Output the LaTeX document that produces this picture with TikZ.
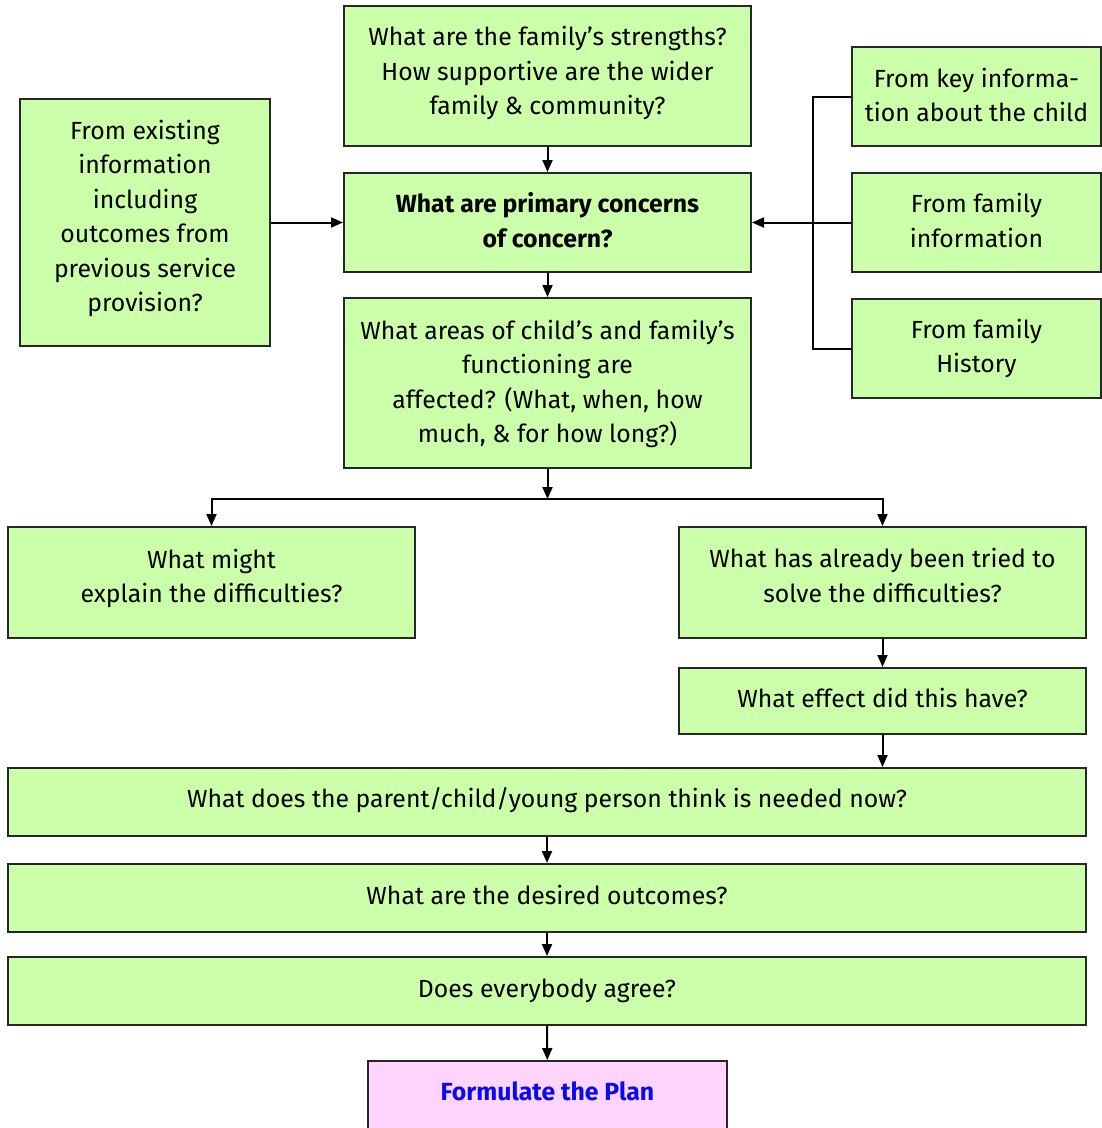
\documentclass[tikz,border=0pt]{standalone}
\usepackage{fontspec}
\setmainfont{Fira Sans}
\usetikzlibrary{arrows.meta}
\definecolor{boxgreen}{RGB}{204,255,170}
\definecolor{boxpink}{RGB}{255,213,255}
\definecolor{planblue}{RGB}{10,10,240}
\tikzset{
  gbox/.style={draw=black!85, line width=2pt, fill=boxgreen, inner sep=0pt},
  pbox/.style={gbox, fill=boxpink},
  btext/.style={inner sep=0pt, align=center, font=\fontsize{24.8}{34.5}\selectfont,
    execute at begin node=\strut, execute at end node=\strut},
  conn/.style={line width=2pt, draw=black},
  arr/.style={conn, -{Triangle[length=12pt,width=10pt]}},
}
\newcommand{\bx}[7]{% name, x1, y1, x2, y2, text, upward shift
  \node[gbox, minimum width=#4pt-#2pt, minimum height=#5pt-#3pt] (#1) at ({(#2+#4)/2},{(#3+#5)/2}) {};
  \node[btext, yshift=#7pt] (#1-t) at (#1.center) {#6};}
\begin{document}
\begin{tikzpicture}[x=1pt,y=-1pt]
\useasboundingbox (0,0) rectangle (1102,1128);
\begin{scope}
\clip (0,0) rectangle (1102,1128);
\bx{top}{344}{6}{751}{146}{What are the family’s strengths?\\How supportive are the wider\\family \& community?}{0.5}
\bx{left}{20}{99}{270}{346}{From existing\\information\\including\\outcomes from\\previous service\\provision?}{1.5}
\bx{prim}{344}{173}{751}{272}{\textbf{What are primary concerns}\\\textbf{of concern?}}{-2.5}
\bx{areas}{344}{298}{751}{468}{What areas of child’s and family’s\\functioning are\\affected? (What, when, how\\much, \& for how long?)}{-3.5}
\bx{key}{852}{47}{1101}{146}{From key informa-\\tion about the child}{-3.5}
\bx{fam}{852}{173}{1101}{272}{From family\\information}{-3}
\bx{hist}{852}{299}{1101}{398}{From family\\History}{-2.5}
\bx{expl}{8}{527}{415}{638}{What might\\explain the difficulties?}{1.5}
\bx{tried}{679}{527}{1086}{638}{What has already been tried to\\solve the difficulties?}{2}
\bx{effect}{679}{668}{1086}{734}{What effect did this have?}{0}
\bx{parent}{8}{768}{1086}{836}{What does the parent/child/young person think is needed now?}{1}
\bx{desired}{8}{864}{1086}{932}{What are the desired outcomes?}{0}
\bx{agree}{8}{957}{1086}{1025}{Does everybody agree?}{0}
\node[pbox, minimum width=359pt, minimum height=100pt, anchor=north] (plan) at (547.5,1060) {};
\node[btext, text=planblue, font=\fontsize{24.8}{34.5}\selectfont\bfseries] (plan-t) at (547.5,1094) {Formulate the Plan};
\end{scope}
\coordinate (bus) at (813,222);
\draw[arr] (top) -- (prim);
\draw[arr] (prim) -- (areas);
\draw[arr] (left) -- (prim);
\draw[conn] (key.west) -| (bus) |- (hist.west);
\draw[arr] (fam.west) -- (prim.east);
\coordinate (split) at (547.5,499);
\draw[arr] (areas.south) -- (split);
\draw[arr] (split) -| (expl.north);
\draw[arr] (split) -| (tried.north);
\draw[arr] (tried) -- (effect);
\draw[arr] (effect.south) -- (effect.south |- parent.north);
\draw[arr] (parent) -- (desired);
\draw[arr] (desired) -- (agree);
\draw[arr] (agree) -- (plan);
\end{tikzpicture}
\end{document}
